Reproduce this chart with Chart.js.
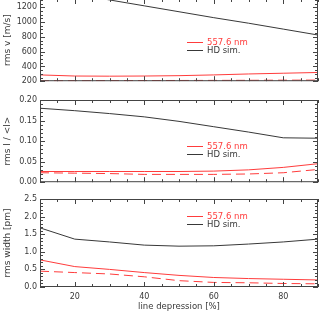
<!DOCTYPE html>
<html>
<head>
<meta charset="utf-8">
<script src="https://cdn.jsdelivr.net/npm/chart.js@4.4.0/dist/chart.umd.min.js"></script>
<style>
  html, body { margin: 0; padding: 0; background: #fff; overflow: hidden; }
  #wrap { position: relative; width: 319px; height: 313px; overflow: hidden; }
  canvas { position: absolute; left: 0; }
</style>
</head>
<body>
<div id="wrap">
  <canvas id="pV" width="319" height="100" style="top:-11px"></canvas>
  <canvas id="pI" width="319" height="100" style="top:90px"></canvas>
  <canvas id="pW" width="319" height="123" style="top:190px"></canvas>
</div>
<script>
// line depression [%]
const depth = [10, 20, 30, 40, 50, 60, 70, 80, 90];

// rms v [m/s]
const vObs     = [285, 270, 268, 270, 275, 285, 298, 308, 318];
const vObsDash = [205, 207, 208, 209, 210, 211, 212, 214, 215];
const vSim     = [1460, 1380, 1300, 1220, 1140, 1060, 985, 905, 825];

// rms I / <I>
const iObs     = [0.026, 0.026, 0.026, 0.026, 0.026, 0.027, 0.030, 0.036, 0.045];
const iObsDash = [0.023, 0.022, 0.021, 0.019, 0.019, 0.019, 0.020, 0.023, 0.031];
const iSim     = [0.180, 0.174, 0.167, 0.159, 0.148, 0.135, 0.122, 0.108, 0.107];

// rms width [pm]
const wObs     = [0.77, 0.58, 0.50, 0.41, 0.33, 0.27, 0.24, 0.22, 0.20];
const wObsDash = [0.45, 0.41, 0.37, 0.29, 0.18, 0.13, 0.12, 0.10, 0.09];
const wSim     = [1.68, 1.36, 1.28, 1.19, 1.16, 1.17, 1.22, 1.28, 1.36];

const seriesNames = ['557.6 nm', 'HD sim.'];
const xTicks = [20, 40, 60, 80];
const vTicks = [200, 400, 600, 800, 1000, 1200];
const iTicks = [0, 0.05, 0.10, 0.15, 0.20];
const wTicks = [0, 0.5, 1.0, 1.5, 2.0, 2.5];

const RED = '#ff3c3c';
const DARK = '#383838';
const FONT = 'DejaVu Sans';

Chart.defaults.font.family = FONT;
Chart.defaults.font.size = 8;
Chart.defaults.color = DARK;

// box with inward ticks on all four sides (IDL style)
const framePlugin = {
  id: 'frame',
  afterDatasetsDraw(chart, args, o) {
    const { ctx, chartArea: a, scales: { x, y } } = chart;
    ctx.save();
    ctx.strokeStyle = '#444';
    ctx.lineWidth = 1;
    ctx.strokeRect(a.left + 0.5, a.top + 0.5, a.right - a.left - 1, a.bottom - a.top - 1);
    ctx.beginPath();
    const nx = Math.round((x.max - x.min) / o.xMinor);
    for (let k = 0; k <= nx; k++) {
      const v = x.min + k * o.xMinor;
      const len = Math.abs(v / o.xMajor - Math.round(v / o.xMajor)) < 1e-6 ? 5 : 3;
      const px = Math.round(x.getPixelForValue(v)) + 0.5;
      ctx.moveTo(px, a.bottom); ctx.lineTo(px, a.bottom - len);
      ctx.moveTo(px, a.top); ctx.lineTo(px, a.top + len);
    }
    const ny = Math.floor((y.max - y.min) / o.yMinor + 1e-6);
    for (let k = 0; k <= ny; k++) {
      const v = y.min + k * o.yMinor;
      const len = Math.abs(v / o.yMajor - Math.round(v / o.yMajor)) < 1e-6 ? 5 : 3;
      const py = Math.round(y.getPixelForValue(v)) + 0.5;
      ctx.moveTo(a.left, py); ctx.lineTo(a.left + len, py);
      ctx.moveTo(a.right, py); ctx.lineTo(a.right - len, py);
    }
    ctx.stroke();
    ctx.restore();
  }
};

// small legend sitting inside the plot
const boxLegend = {
  id: 'boxLegend',
  afterDatasetsDraw(chart, args, o) {
    const { ctx, chartArea: a } = chart;
    ctx.save();
    ctx.font = '8.5px ' + FONT;
    ctx.textBaseline = 'middle';
    let row = 0;
    chart.data.datasets.forEach(ds => {
      if (!ds.label) return;
      const y = Math.round(a.top + o.dy + row * 8.3) + 0.5;
      ctx.strokeStyle = ds.borderColor;
      ctx.lineWidth = 1;
      ctx.beginPath();
      ctx.moveTo(187, y); ctx.lineTo(203, y);
      ctx.stroke();
      ctx.fillStyle = ds.borderColor;
      ctx.fillText(ds.label, 207, y);
      row++;
    });
    ctx.restore();
  }
};

function panel(id, obs, obsDash, sim, yMin, yMax, yTicks, fmt, title, pad, bottomAxis, frame, legendDy) {
  return new Chart(document.getElementById(id), {
    type: 'line',
    data: {
      labels: depth,
      datasets: [
        { label: seriesNames[0], data: obs, borderColor: RED },
        { label: '', data: obsDash, borderColor: RED, borderDash: [9, 5] },
        { label: seriesNames[1], data: sim, borderColor: DARK }
      ].map(d => Object.assign(d, { borderWidth: 1, pointRadius: 0, tension: 0, fill: false }))
    },
    options: {
      responsive: false,
      animation: false,
      events: [],
      layout: { padding: pad },
      plugins: {
        legend: { display: false },
        tooltip: { enabled: false },
        frame,
        boxLegend: { dy: legendDy }
      },
      scales: {
        x: {
          type: 'linear',
          min: 10, max: 90,
          grid: { display: false, drawTicks: false },
          border: { display: false },
          afterBuildTicks: s => { s.ticks = xTicks.map(v => ({ value: v })); },
          afterFit: s => { s.height = bottomAxis ? 26 : 0; },
          ticks: { display: bottomAxis, padding: 5, color: DARK, font: { size: 8 } },
          title: {
            display: bottomAxis,
            text: 'line depression [%]',
            color: DARK,
            font: { size: 8.5 },
            padding: { top: 0, bottom: 1 }
          }
        },
        y: {
          type: 'linear',
          min: yMin, max: yMax,
          grid: { display: false, drawTicks: false },
          border: { display: false },
          afterBuildTicks: s => { s.ticks = yTicks.map(v => ({ value: v })); },
          afterFit: s => { s.width = 40; },
          ticks: { padding: 3, color: DARK, font: { size: 8 }, callback: fmt },
          title: {
            display: true,
            text: title,
            color: DARK,
            font: { size: 9 },
            padding: { top: 2, bottom: 0 }
          }
        }
      }
    },
    plugins: [framePlugin, boxLegend]
  });
}

panel('pV', vObs, vObsDash, vSim, 200, 1312.5, vTicks, v => String(v), 'rms v [m/s]',
  { top: 10, right: 1, bottom: 1, left: 0 }, false,
  { xMinor: 5, xMajor: 20, yMinor: 50, yMajor: 200 }, 42.7);

panel('pI', iObs, iObsDash, iSim, 0, 0.2, iTicks, v => v.toFixed(2), 'rms I / <I>',
  { top: 10, right: 1, bottom: 3, left: 0 }, false,
  { xMinor: 5, xMajor: 20, yMinor: 0.01, yMajor: 0.05 }, 45.7);

panel('pW', wObs, wObsDash, wSim, 0, 2.5, wTicks, v => v.toFixed(1), 'rms width [pm]',
  { top: 9, right: 1, bottom: 0, left: 0 }, true,
  { xMinor: 5, xMajor: 20, yMinor: 0.1, yMajor: 0.5 }, 16.7);
</script>
</body>
</html>
